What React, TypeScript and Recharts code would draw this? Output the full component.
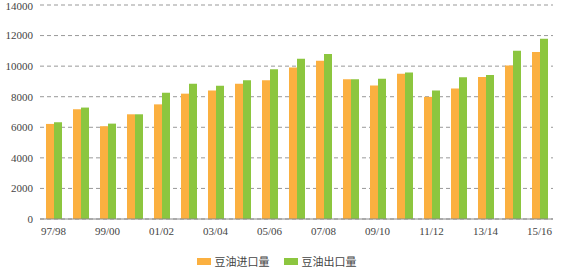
import { BarChart, Bar, XAxis, YAxis, CartesianGrid, Legend } from "recharts";

const SEASONS = [
  "97/98", "98/99", "99/00", "00/01", "01/02", "02/03", "03/04", "04/05", "05/06", "06/07",
  "07/08", "08/09", "09/10", "10/11", "11/12", "12/13", "13/14", "14/15", "15/16",
];
const IMPORTS = [
  6220, 7180, 6070, 6850, 7500, 8200, 8410, 8850, 9070, 9910,
  10350, 9150, 8730, 9500, 7990, 8540, 9290, 10040, 10930,
];
const EXPORTS = [
  6330, 7290, 6240, 6850, 8260, 8850, 8715, 9070, 9800, 10480,
  10800, 9150, 9170, 9590, 8400, 9270, 9420, 11000, 11800,
];
const Y_TICKS = [0, 2000, 4000, 6000, 8000, 10000, 12000, 14000];
// boundaries between seasons, for the small tick marks on the x axis
const EDGES = SEASONS.slice(1).map((_, i) => i + 1);
const SERIES_ORDER = ["imports", "exports"];

const data = SEASONS.map((season, i) => ({
  season,
  imports: IMPORTS[i],
  exports: EXPORTS[i],
}));

const SERIF = '"Liberation Serif", "Times New Roman", serif';
const CJK = '"Noto Sans CJK SC", "Noto Sans", sans-serif';
const tickStyle = {
  fontFamily: SERIF,
  fontSize: 11,
  fill: "#444",
  style: { fontFamily: SERIF },
};

function LegendBox({ payload }: { payload?: any[] }) {
  const items = [...(payload || [])].sort(
    (a, b) => SERIES_ORDER.indexOf(a.dataKey) - SERIES_ORDER.indexOf(b.dataKey)
  );
  return (
    <div
      style={{
        display: "flex",
        justifyContent: "center",
        gap: 14,
        paddingTop: 12,
        fontFamily: CJK,
        fontSize: 11,
        color: "#444",
      }}
    >
      {items.map((p) => (
        <span key={p.value} style={{ display: "flex", alignItems: "center" }}>
          <span
            style={{
              display: "inline-block",
              width: 14,
              height: 7,
              background: p.color,
              marginRight: 4,
            }}
          />
          {p.value}
        </span>
      ))}
    </div>
  );
}

export default function App() {
  return (
    <div
      style={{
        position: "absolute",
        left: 0,
        top: 0,
        background: "#fff",
        fontFamily: SERIF,
      }}
    >
      <BarChart
        width={569}
        height={271}
        data={data}
        margin={{ top: 5, right: 16, left: 0, bottom: 0 }}
        barGap={0}
        barSize={8}
      >
        <CartesianGrid vertical={false} stroke="#999" strokeDasharray="4 3" />
        <XAxis
          dataKey="season"
          interval={1}
          height={22}
          axisLine={{ stroke: "#888" }}
          tickLine={false}
          tick={tickStyle}
        />
        <XAxis
          xAxisId="edges"
          type="number"
          domain={[0, SEASONS.length]}
          ticks={EDGES}
          height={0}
          mirror
          axisLine={false}
          tick={false}
          tickSize={3}
          tickLine={{ stroke: "#888" }}
        />
        <YAxis
          domain={[0, 14000]}
          ticks={Y_TICKS}
          width={40}
          axisLine={false}
          tickLine={false}
          tickMargin={1}
          tick={tickStyle}
        />
        <Legend verticalAlign="bottom" height={30} content={<LegendBox />} />
        <Bar
          dataKey="imports"
          name="豆油进口量"
          fill="#FBB040"
          isAnimationActive={false}
        />
        <Bar
          dataKey="exports"
          name="豆油出口量"
          fill="#8CC63F"
          isAnimationActive={false}
        />
      </BarChart>
    </div>
  );
}
